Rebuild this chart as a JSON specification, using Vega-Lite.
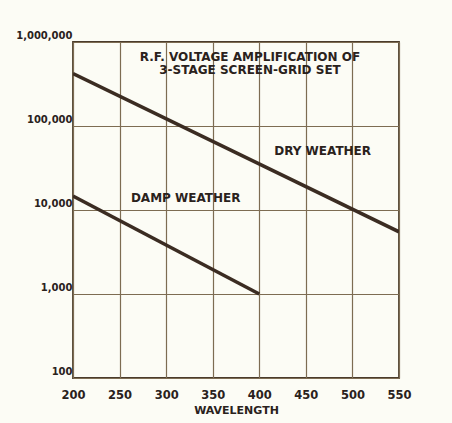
{
  "$schema": "https://vega.github.io/schema/vega-lite/v6.json",
  "width": 326,
  "height": 336,
  "autosize": {"type": "none"},
  "padding": {"left": 73, "top": 42, "right": 53, "bottom": 45},
  "background": "#fcfcf5",
  "title": {
    "text": ["R.F. VOLTAGE  AMPLIFICATION OF", "3-STAGE SCREEN-GRID SET"],
    "anchor": "middle",
    "orient": "top",
    "offset": -47,
    "dx": 14,
    "lineHeight": 13,
    "font": "DejaVu Sans",
    "fontSize": 12,
    "fontWeight": "bold",
    "color": "#2a221c"
  },
  "config": {
    "view": {"stroke": "#4a3c2c", "strokeWidth": 1.8},
    "axis": {
      "labelFont": "DejaVu Sans",
      "labelFontWeight": "bold",
      "labelColor": "#2a221c",
      "titleFont": "DejaVu Sans",
      "titleColor": "#2a221c",
      "gridColor": "#7d6c52",
      "gridWidth": 1.2,
      "gridOpacity": 1,
      "domain": false,
      "ticks": false
    }
  },
  "datasets": {
    "lines": [
      {"series": "dry", "wavelength": 200, "amplification": 420000},
      {"series": "dry", "wavelength": 550, "amplification": 5500},
      {"series": "damp", "wavelength": 200, "amplification": 14700},
      {"series": "damp", "wavelength": 400, "amplification": 1000}
    ],
    "labels": [
      {"label": "DRY WEATHER", "wavelength": 468, "amplification": 50000},
      {"label": "DAMP WEATHER", "wavelength": 321, "amplification": 13800}
    ]
  },
  "layer": [
    {
      "data": {"name": "lines"},
      "mark": {"type": "line", "color": "#3b2c22", "strokeWidth": 3.5, "clip": true},
      "encoding": {
        "x": {
          "field": "wavelength",
          "type": "quantitative",
          "scale": {"domain": [200, 550], "nice": false, "zero": false},
          "axis": {
            "values": [200, 250, 300, 350, 400, 450, 500, 550],
            "title": "WAVELENGTH",
            "titleFontSize": 11,
            "titleFontWeight": "bold",
            "titlePadding": 4,
            "labelFontSize": 11.5,
            "labelPadding": 11,
            "labelFlush": false
          }
        },
        "y": {
          "field": "amplification",
          "type": "quantitative",
          "scale": {"type": "log", "domain": [100, 1000000], "nice": false},
          "axis": {
            "values": [100, 1000, 10000, 100000, 1000000],
            "format": ",",
            "title": null,
            "labelFontSize": 10,
            "labelBaseline": "bottom",
            "labelOffset": -2,
            "labelPadding": 1,
            "labelFlush": false
          }
        },
        "detail": {"field": "series", "type": "nominal"}
      }
    },
    {
      "data": {"name": "labels"},
      "mark": {
        "type": "text",
        "font": "DejaVu Sans",
        "fontSize": 12,
        "fontWeight": "bold",
        "color": "#2a221c",
        "align": "center",
        "baseline": "middle"
      },
      "encoding": {
        "x": {"field": "wavelength", "type": "quantitative"},
        "y": {"field": "amplification", "type": "quantitative"},
        "text": {"field": "label", "type": "nominal"}
      }
    }
  ]
}
